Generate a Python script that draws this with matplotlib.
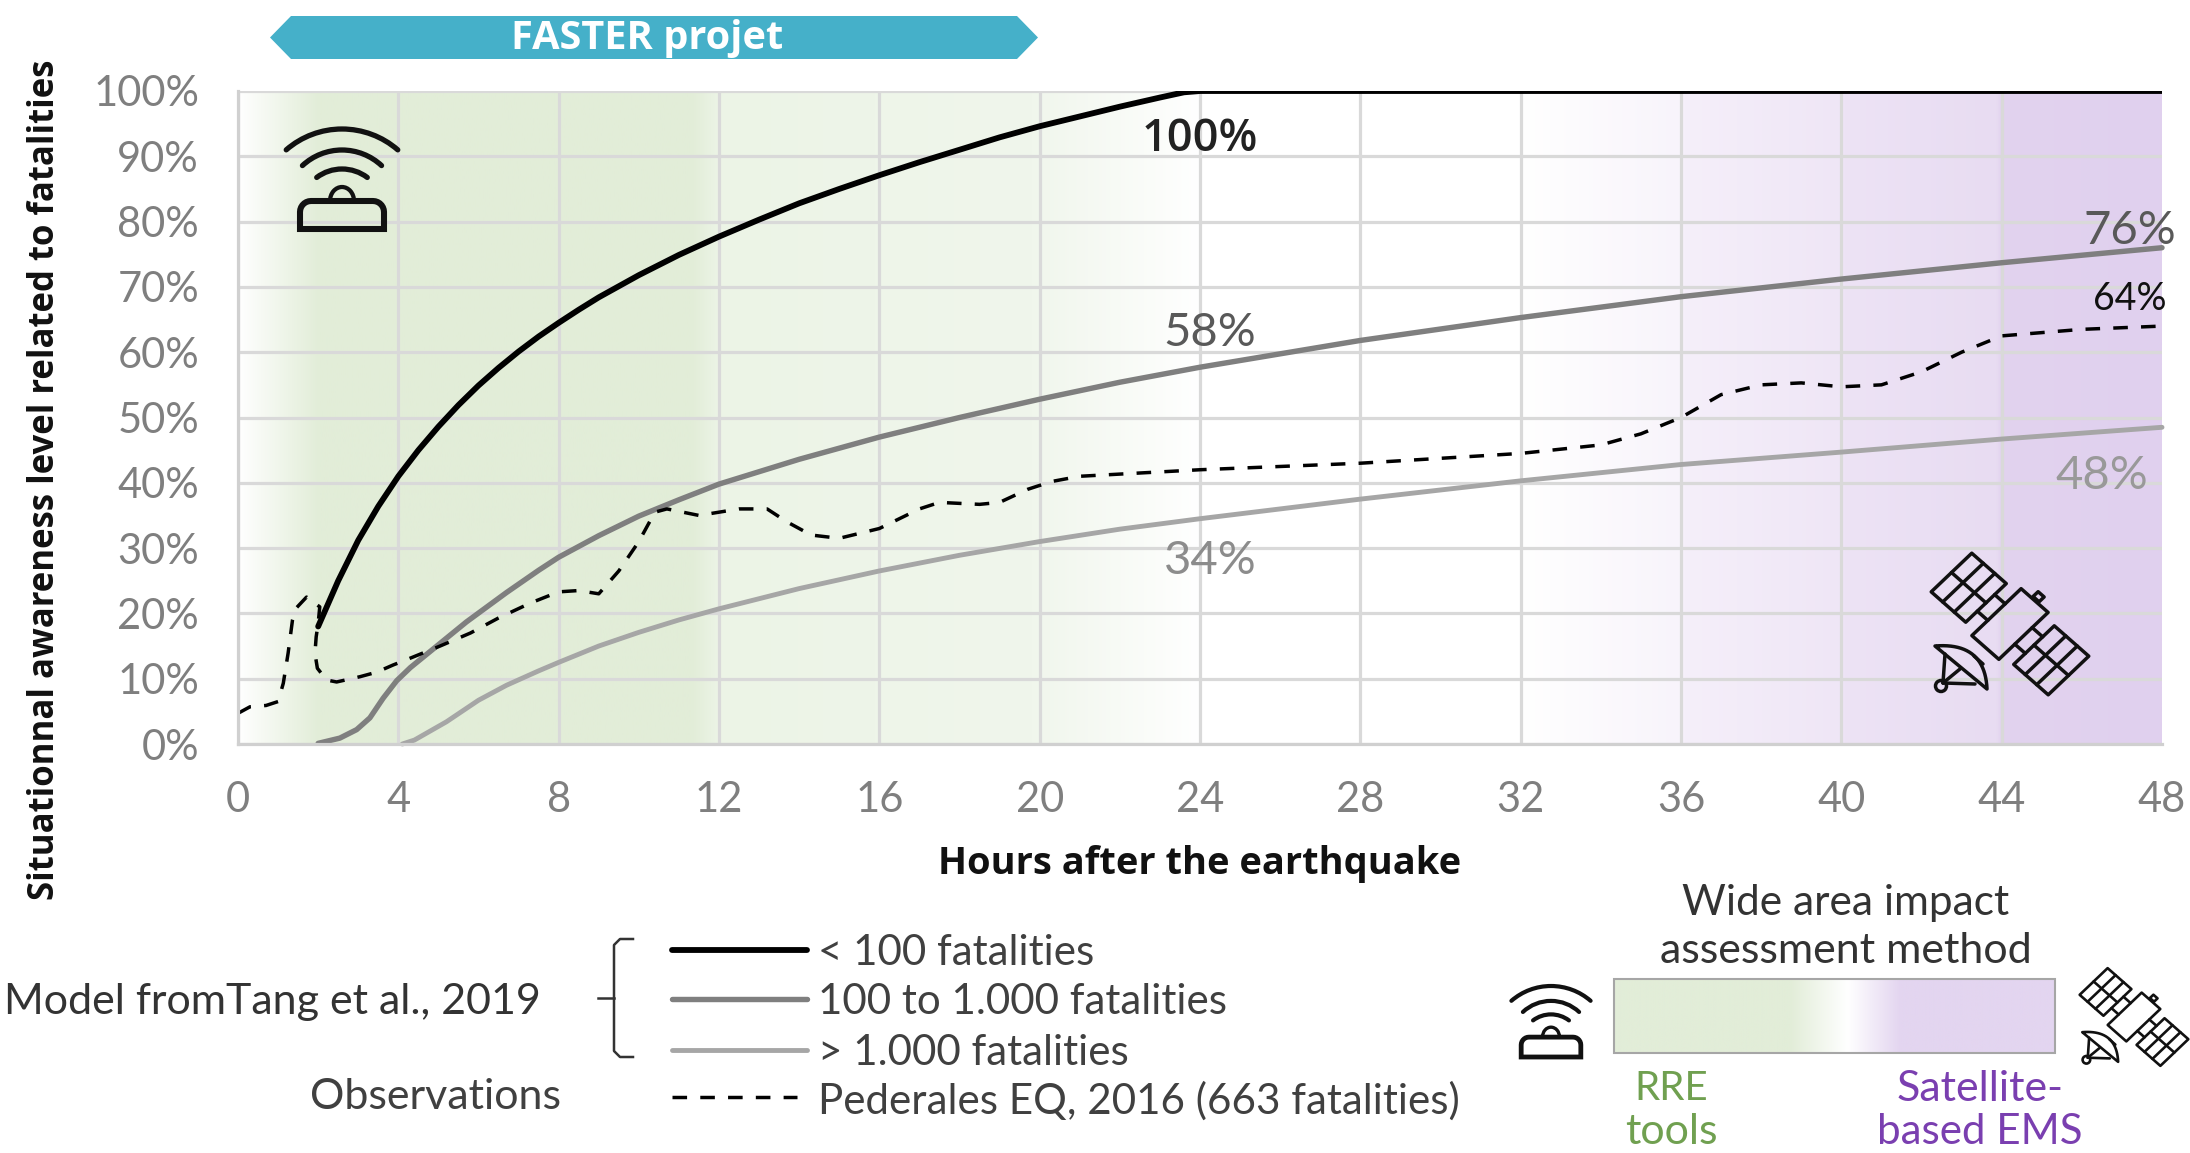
import numpy as np
import matplotlib
matplotlib.use("Agg")
import matplotlib.pyplot as plt
from matplotlib.colors import LinearSegmentedColormap
from matplotlib.patches import Polygon, Rectangle, Arc, Circle

W, H = 2190, 1153
FONT = "Lato"
plt.rcParams["font.family"] = [FONT, "DejaVu Sans"]

# ---- data ----
x_ticks = list(range(0, 49, 4))
y_ticks = list(range(0, 101, 10))

low_h = [2, 2.5, 3, 3.5, 4, 4.5, 5, 5.5, 6, 6.5, 7, 7.5, 8, 8.5, 9, 10, 11, 12, 13, 14, 15, 16, 17, 18, 19, 20, 21, 22, 23, 23.6, 24, 48]
low_v = [18, 25, 31.2, 36.4, 41, 45, 48.6, 51.9, 54.9, 57.6, 60.1, 62.4, 64.5, 66.5, 68.4, 71.8, 74.9, 77.7, 80.3, 82.8, 85, 87.1, 89.1, 91, 92.9, 94.6, 96.1, 97.6, 99, 99.8, 100, 100]
mid_h = [2, 2.54, 2.96, 3.29, 3.62, 3.96, 4.3, 5.04, 5.7, 6.7, 7.5, 8, 9, 10, 11, 12, 14, 16, 18, 20, 22, 24, 28, 32, 36, 40, 44, 48]
mid_v = [0.1, 0.9, 2.2, 4, 7, 9.7, 11.7, 15.4, 18.7, 23.2, 26.6, 28.6, 31.9, 34.9, 37.4, 39.8, 43.6, 47, 50, 52.8, 55.4, 57.7, 61.8, 65.3, 68.5, 71.2, 73.7, 76]
high_h = [4.1, 4.4, 5.2, 6, 6.7, 7.5, 8, 9, 10, 11, 12, 14, 16, 18, 20, 22, 24, 28, 32, 36, 40, 44, 48]
high_v = [0, 0.6, 3.4, 6.7, 9, 11.2, 12.5, 15, 17.1, 19, 20.7, 23.8, 26.5, 28.9, 31, 32.9, 34.5, 37.5, 40.3, 42.8, 44.7, 46.7, 48.5]
obs_h = [0, 0.3, 0.7, 1.0, 1.13, 1.25, 1.36, 1.45, 1.71, 2.04, 2.0, 1.95, 1.92, 1.98, 2.21, 2.46, 3.04, 3.46, 3.87, 4.2, 5.04, 5.8, 6.5, 7.3, 8, 8.5, 9.0, 9.5, 10, 10.4, 10.7, 11.5, 12.5, 13.2, 13.7, 14.3, 15, 16, 17, 17.5, 18.5, 19, 19.7, 20.3, 21, 24, 28, 32, 34, 35, 36, 37, 38, 39, 40, 41, 42, 43, 44, 46, 48]
obs_v = [4.7, 5.7, 5.9, 6.5, 9.3, 13.9, 19, 20.8, 22.5, 21, 18.5, 16.4, 13.9, 11.6, 9.8, 9.5, 10.3, 11, 12.1, 12.9, 15, 17, 19.3, 21.6, 23.3, 23.5, 23, 26.5, 31, 35.5, 36, 35, 36, 36, 34, 32, 31.5, 33, 36, 37, 36.7, 37, 39, 40.2, 41, 42, 43, 44.5, 45.8, 47.5, 50, 53.5, 55, 55.3, 54.7, 55, 57, 60, 62.5, 63.5, 64]

bg_hours = [0, 2, 11.3, 12, 19.8, 24, 32, 36, 36.1, 40, 40.1, 43.9, 44, 48]
bg_colours = ["#ffffff", "#e2edd8", "#e2edd8", "#ecf4e6", "#f0f6ec", "#ffffff", "#ffffff", "#f8f4fb",
              "#f5effa", "#efe6f6", "#ede3f5", "#e8dcf2", "#e2d3ef", "#e0d0ee"]
bar_stops = [0, 0.40, 0.53, 0.65, 1]
bar_colours = ["#e2edd8", "#e2edd8", "#ffffff", "#e3d5f0", "#e3d5f0"]

series_labels = ["< 100 fatalities", "100 to 1.000 fatalities", "> 1.000 fatalities", "Pederales EQ, 2016 (663 fatalities)"]

# ---- figure ----
fig = plt.figure(figsize=(W / 100, H / 100), dpi=100, facecolor="white")
L, R, T, B = 238, 2162, 91, 744
ax = fig.add_axes([L / W, 1 - B / H, (R - L) / W, (B - T) / H])

grad = np.linspace(0, 1, 1000).reshape(1, -1)
cmap = LinearSegmentedColormap.from_list("bg", [(h / 48, c) for h, c in zip(bg_hours, bg_colours)], N=1000)
ax.imshow(grad, extent=(0, 48, 0, 100), aspect="auto", cmap=cmap, vmin=0, vmax=1, zorder=0)

ax.set_xlim(0, 48)
ax.set_ylim(0, 100)
ax.set_xticks(x_ticks)
ax.set_yticks(y_ticks)
ax.set_yticklabels([f"{v}%" for v in y_ticks])
ax.tick_params(length=0, labelsize=30, labelcolor="#7f7f7f")
ax.tick_params(axis="x", pad=27)
ax.tick_params(axis="y", pad=28)
ax.grid(True, color="#d9d9d9", lw=2.3)
ax.set_axisbelow(True)
ax.xaxis.get_gridlines()[-1].set_visible(False)
for name, sp in ax.spines.items():
    sp.set_visible(name in ("left", "bottom"))
    sp.set_color("#d0d0d0")
    sp.set_linewidth(2.3)

lc = dict(solid_capstyle="round", solid_joinstyle="round")
DASH = (0, (4.2, 3.8))
ax.plot(high_h, high_v, color="#a6a6a6", lw=3.5, clip_on=False, **lc)
ax.plot(mid_h, mid_v, color="#7f7f7f", lw=3.9, clip_on=False, **lc)
ax.plot(low_h, low_v, color="#000000", lw=4.2, clip_on=True, **lc)
ax.plot(obs_h, obs_v, color="#000000", lw=2.5, ls=DASH, clip_on=False)

ax.text(24, 92.6, "100%", color="#222222", fontsize=32.5, ha="center", va="center", fontweight="semibold", family="Open Sans")
ax.text(24.25, 63, "58%", color="#595959", fontsize=34, ha="center", va="center")
ax.text(24.25, 28, "34%", color="#8c8c8c", fontsize=34, ha="center", va="center")
ax.text(47.2, 78.5, "76%", color="#595959", fontsize=34, ha="center", va="center", clip_on=False)
ax.text(47.2, 68.2, "64%", color="#111111", fontsize=27, ha="center", va="center", clip_on=False)
ax.text(46.5, 41, "48%", color="#999999", fontsize=34, ha="center", va="center")

# ---- overlay in pixel coordinates ----
ov = fig.add_axes([0, 0, 1, 1], zorder=5)
ov.set_xlim(0, W)
ov.set_ylim(H, 0)
ov.axis("off")
ov.patch.set_alpha(0)

# banner
ov.add_patch(Polygon([(270, 37.5), (291, 16), (1017, 16), (1038, 37.5), (1017, 59), (291, 59)],
                     closed=True, fc="#45b0c9", ec="none"))
ov.text(647, 39, "FASTER projet", color="white", fontsize=28.6, ha="center", va="center",
        fontweight="bold", family="Open Sans")

ov.text(45, 480, "Situationnal awareness level related to fatalities", rotation=90, fontsize=25,
        fontweight="bold", family="Open Sans", ha="center", va="center", color="#111111")
ov.text(1200, 864, "Hours after the earthquake", fontsize=27.4, fontweight="bold", family="Open Sans",
        ha="center", va="center", color="#111111")

INK = "#111111"


def wifi(cx, top, s, lw):
    """Antenna icon; s = 1 is the 112 px wide version inside the chart."""
    for radius, half, arc_top in [(85, 41, 0), (58, 43, 21), (42, 37, 40)]:
        ov.add_patch(Arc((cx, top + (arc_top + radius) * s), 2 * radius * s, 2 * radius * s,
                         theta1=270 - half, theta2=270 + half, color=INK, lw=lw, capstyle="round"))
    ov.add_patch(Arc((cx, top + 72 * s), 24 * s, 28 * s, theta1=180, theta2=360, color=INK, lw=lw * 0.8))
    a = np.linspace(0, np.pi / 2, 8)
    r = 11 * s
    xl, xr = cx - 42 * s, cx + 42 * s
    yt, yb = top + 72 * s, top + 100 * s
    pts = [(xl, yb)] + [(xl + r - r * np.cos(t), yt + r - r * np.sin(t)) for t in a] \
        + [(xr - r + r * np.sin(t), yt + r - r * np.cos(t)) for t in a] + [(xr, yb)]
    ov.add_patch(Polygon(pts, closed=True, fc="none", ec=INK, lw=lw * 1.15, joinstyle="miter"))


def satellite(cx, cy, s, lw):
    uu = np.array([0.75, 0.66])
    vv = np.array([0.724, -0.69])
    c = np.array([cx, cy], float)

    def P(u, v):
        return tuple(c + s * (u * uu + v * vv))

    def Q(dx, dy):
        return tuple(c + s * np.array([dx, dy]))

    def box(u0, u1, v0, v1):
        ov.add_patch(Polygon([P(u0, v0), P(u1, v0), P(u1, v1), P(u0, v1)], closed=True,
                             fc="none", ec=INK, lw=lw, joinstyle="round"))

    def seg(a, b):
        ov.plot(*zip(a, b), color=INK, lw=lw, solid_capstyle="round")

    box(-18, 18, -34, 34)
    box(-4, 4, 36, 43)
    for sign in (-1, 1):
        u0, u1 = sorted((sign * 32, sign * 78))
        box(u0, u1, -28, 28)
        for f in (1 / 3, 2 / 3):
            seg(P(u0 + (u1 - u0) * f, -28), P(u0 + (u1 - u0) * f, 28))
        seg(P(u0, 0), P(u1, 0))
        seg(P(sign * 18, 12), P(sign * 32, 12))
        seg(P(sign * 18, -12), P(sign * 32, -12))
    # dish
    A, C, D = np.array([-75, 22.]), np.array([-25, 18.]), np.array([-23, 65.])
    rim = [Q(*((1 - t) ** 2 * A + 2 * t * (1 - t) * C + t ** 2 * D)) for t in np.linspace(0, 1, 24)]
    ov.add_patch(Polygon(rim, closed=True, fc="none", ec=INK, lw=lw, joinstyle="round"))
    seg(Q(-65, 30), Q(-67, 59))
    seg(Q(-67, 59), Q(-35, 60))
    seg(Q(-67, 59), Q(-50, 45))
    seg(Q(-36, 32), Q(-27, 40))
    ov.add_patch(Circle(Q(-69, 62), 5.5 * s, fc="none", ec=INK, lw=lw))


wifi(342, 129, 1.0, 3.8)
wifi(1551, 986, 0.71, 3.0)
satellite(2010, 624, 1.0, 2.5)
satellite(2134, 1017, 0.69, 1.9)

# legend
leg_y = [950, 999, 1050, 1097]
styles = [dict(color="#000000", lw=4.2), dict(color="#7f7f7f", lw=3.9), dict(color="#a6a6a6", lw=3.5),
          dict(color="#000000", lw=2.5, ls=DASH)]
for y, st, lab in zip(leg_y, styles, series_labels):
    ov.plot([672, 807 if st["lw"] > 3 else 797], [y, y], solid_capstyle="round", **st)
    ov.text(818, y + (3 if st["lw"] > 3 else 4), lab, fontsize=30.3, color="#404040", ha="left", va="center")

ov.plot([633, 620, 614, 614, 620, 633], [939, 939, 945, 1051, 1057, 1057], color="#333333", lw=1.8)
ov.plot([598, 614], [998, 998], color="#333333", lw=1.8)
ov.text(4, 1002, "Model fromTang et al., 2019", fontsize=31, color="#333333", ha="left", va="center")
ov.text(436, 1097, "Observations", fontsize=31, color="#404040", ha="center", va="center")

ov.text(1846, 903, "Wide area impact", fontsize=30.5, color="#333333", ha="center", va="center")
ov.text(1846, 951, "assessment method", fontsize=31, color="#333333", ha="center", va="center")

bar_cmap = LinearSegmentedColormap.from_list("bar", list(zip(bar_stops, bar_colours)), N=500)
ov.imshow(np.linspace(0, 1, 500).reshape(1, -1), extent=(1614, 2055, 1053, 979), aspect="auto",
          cmap=bar_cmap, vmin=0, vmax=1, zorder=1)
ov.add_patch(Rectangle((1614, 979), 441, 74, fc="none", ec="#a6a6a6", lw=1.5, zorder=2))
ov.set_xlim(0, W)
ov.set_ylim(H, 0)

ov.text(1671, 1088, "RRE", fontsize=29, color="#70a050", ha="center", va="center")
ov.text(1671, 1132, "tools", fontsize=31, color="#70a050", ha="center", va="center")
ov.text(1980, 1089, "Satellite-", fontsize=31, color="#7a3fb0", ha="center", va="center")
ov.text(1980, 1132, "based EMS", fontsize=30.3, color="#7a3fb0", ha="center", va="center")

fig.savefig("out.png", dpi=100)
